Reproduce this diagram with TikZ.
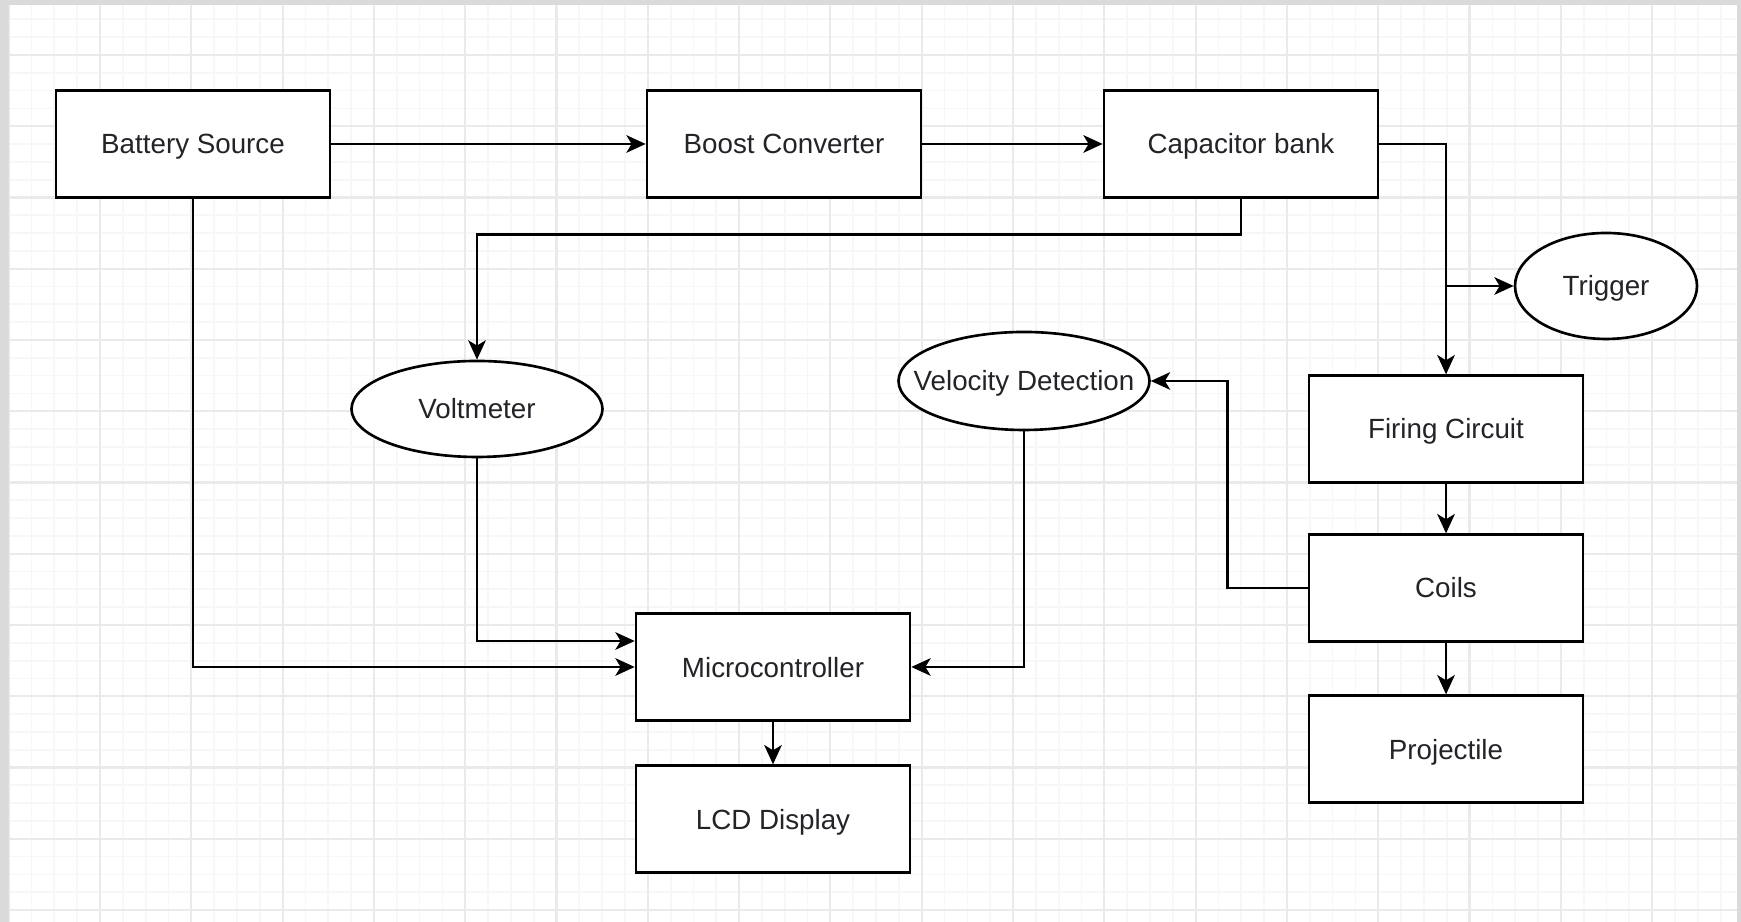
\documentclass[tikz,border=0pt]{standalone}
\usepackage{fontspec}
\setmainfont{Liberation Sans}
\usetikzlibrary{arrows.meta,shapes.geometric}
\definecolor{canvasgray}{RGB}{218,218,218}
\definecolor{gridmajor}{RGB}{234,234,234}
\definecolor{gridminor}{RGB}{247,247,247}
\definecolor{labelgray}{RGB}{35,35,40}

\begin{document}
\begin{tikzpicture}[
    block/.style={draw,line width=0.75pt,fill=white,minimum width=2.74cm,minimum height=1.066cm,inner sep=0pt,text height=5.7pt,text depth=0pt,font=\fontsize{7.9}{9}\selectfont,text=labelgray},
    oval/.style={block,ellipse},
    link/.style={line width=0.7pt,-{Stealth[length=5.5pt,width=5pt,inset=1.5pt]}}
    ]
            \useasboundingbox (0,0) rectangle (17.41,9.22);
            \fill[canvasgray] (0,0) rectangle (17.41,9.22);
            \fill[white] (0.09,0) rectangle (17.37,9.17);
            \begin{scope}
                \clip (0.09,0) rectangle (17.37,9.17);
                \foreach \i in {0,...,75} \draw[gridminor,line width=0.5pt] (0.087+0.22825*\i,0)--++(0,9.17);
                \foreach \j in {-48,...,2} \draw[gridminor,line width=0.5pt] (0.09,8.67+0.178125*\j)--++(17.28,0);
                \foreach \i in {0,...,18} \draw[gridmajor,line width=0.6pt] (0.087+0.913*\i,0)--++(0,9.17);
                \foreach \j in {0,...,12} \draw[gridmajor,line width=0.6pt] (0.09,8.67-0.7125*\j)--++(17.28,0);
            \end{scope}
            \node[block] (bat) at (1.93,7.78) {Battery Source};
            \node[block] (boost) at (7.84,7.78) {Boost Converter};
            \node[block] (cap) at (12.41,7.78) {Capacitor bank};
            \node[oval,minimum width=1.82cm,minimum height=1.06cm] (trig) at (16.06,6.36) {Trigger};
            \node[oval,minimum width=2.51cm,minimum height=0.96cm] (volt) at (4.77,5.13) {Voltmeter};
            \node[oval,minimum width=2.51cm,minimum height=0.98cm,inner xsep=-0.22cm] (velo) at (10.24,5.41) {Velocity Detection};
            \node[block] (fire) at (14.46,4.93) {Firing Circuit};
            \node[block] (coils) at (14.46,3.34) {Coils};
            \node[block] (proj) at (14.46,1.73) {Projectile};
            \node[block] (micro) at (7.73,2.55) {Microcontroller};
            \node[block] (lcd) at (7.73,1.03) {LCD Display};
            \draw[link] (bat) -- (boost);
            \draw[link] (boost) -- (cap);
            \draw[link] (cap.east) -| (fire.north);
            \draw[link] (fire.north |- trig.west) -- (trig.west);
            \draw[link] (cap.south) -- ++(0,-0.36) -| (volt.north);
            \draw[link] (volt.south) |- ([yshift=0.26cm]micro.west);
            \draw[link] (bat.south) |- (micro.west);
            \draw[link] (velo.south) |- (micro.east);
            \draw[link] (coils.west) -- ++(-0.8,0) |- (velo.east);
            \draw[link] (fire) -- (coils);
            \draw[link] (coils) -- (proj);
            \draw[link] (micro) -- (lcd);
        \end{tikzpicture}
\end{document}
